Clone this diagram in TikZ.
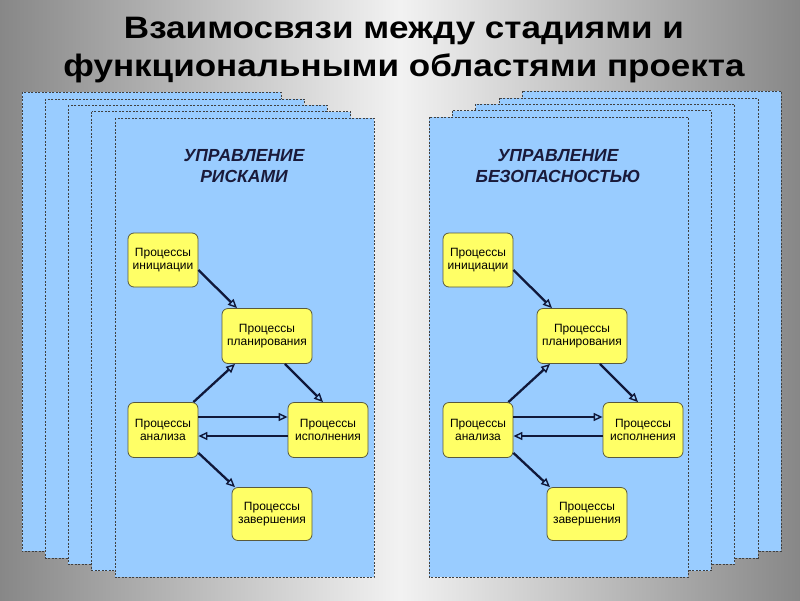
\documentclass[tikz,border=0pt]{standalone}
\usepackage{fontspec}
\setmainfont{Liberation Sans}
\newfontfamily\titlefont[FakeStretch=1.13]{Liberation Sans}
\usetikzlibrary{arrows.meta}

\definecolor{panelblue}{HTML}{99CCFF}
\definecolor{boxyellow}{HTML}{FFFF66}
\definecolor{boxedge}{HTML}{5A5A3C}
\definecolor{headnavy}{HTML}{1A1A3A}
\definecolor{arrownavy}{HTML}{10183A}

\begin{document}
\begin{tikzpicture}[x=1pt, y=-1pt,
    panel/.style={fill=panelblue, draw=black!75, line width=0.6pt, dash pattern=on 2pt off 1.5pt},
    proc/.style={draw=boxedge, fill=boxyellow, rounded corners=6pt, line width=0.8pt,
      align=center, inner sep=0pt, font=\fontsize{12}{13.5}\selectfont},
    flow/.style={draw=arrownavy, line width=2.3pt,
      -{Triangle[open, length=9pt, width=8pt, line width=1.4pt]}},
    head/.style={align=center, text=headnavy, font=\fontsize{17.5}{21}\selectfont\bfseries\itshape}]

  % background and title
  \shade[left color=black!47, right color=black!47, middle color=black!5] (0,0) rectangle (800,600);
  \node[font=\titlefont\fontsize{31}{38}\selectfont\bfseries, align=center] (title) at (404,50)
    {Взаимосвязи между стадиями и\\функциональными областями проекта};

  % stacked sheets
  \foreach \i in {4,3,2,1,0}
    \draw[panel, shift={(-23.3*\i,-6.4*\i)}] (115,118) rectangle (374,577);
  \foreach \i in {4,3,2,1,0}
    \draw[panel, shift={(23.3*\i,-6.4*\i)}] (429,117) rectangle (688,577);

  % left sheet
  \begin{scope}
    \node[head] (riskhead) at (244,166) {УПРАВЛЕНИЕ\\РИСКАМИ};

    \node[proc, minimum width=70pt, minimum height=54pt] (rinit) at (163,260) {Процессы\\инициации};
    \node[proc, minimum width=90pt, minimum height=55pt] (rplan) at (267,336) {Процессы\\планирования};
    \node[proc, minimum width=70pt, minimum height=55pt] (ranal) at (163,430) {Процессы\\анализа};
    \node[proc, minimum width=80pt, minimum height=55pt] (rexec) at (328,430) {Процессы\\исполнения};
    \node[proc, minimum width=80pt, minimum height=53pt] (rclose) at (272,514) {Процессы\\завершения};

    \draw[flow] ([yshift=-10pt]rinit.east) -- ([xshift=-30pt]rplan.north);
    \draw[flow] ([xshift=-5pt]ranal.north east) -- ([xshift=-32pt]rplan.south);
    \draw[flow] ([xshift=18pt]rplan.south) -- ([xshift=-5pt]rexec.north);
    \draw[flow] ([yshift=13pt]ranal.east) -- ([yshift=13pt]rexec.west);
    \draw[flow] ([yshift=-6pt]rexec.west) -- ([yshift=-6pt]ranal.east);
    \draw[flow] ([yshift=5pt]ranal.south east) -- ([xshift=-37pt]rclose.north);
  \end{scope}

  % right sheet
  \begin{scope}[xshift=315pt]
    \node[head] (safehead) at (243,166) {УПРАВЛЕНИЕ\\БЕЗОПАСНОСТЬЮ};

    \node[proc, minimum width=70pt, minimum height=54pt] (sinit) at (163,260) {Процессы\\инициации};
    \node[proc, minimum width=90pt, minimum height=55pt] (splan) at (267,336) {Процессы\\планирования};
    \node[proc, minimum width=70pt, minimum height=55pt] (sanal) at (163,430) {Процессы\\анализа};
    \node[proc, minimum width=80pt, minimum height=55pt] (sexec) at (328,430) {Процессы\\исполнения};
    \node[proc, minimum width=80pt, minimum height=53pt] (sclose) at (272,514) {Процессы\\завершения};

    \draw[flow] ([yshift=-10pt]sinit.east) -- ([xshift=-30pt]splan.north);
    \draw[flow] ([xshift=-5pt]sanal.north east) -- ([xshift=-32pt]splan.south);
    \draw[flow] ([xshift=18pt]splan.south) -- ([xshift=-5pt]sexec.north);
    \draw[flow] ([yshift=13pt]sanal.east) -- ([yshift=13pt]sexec.west);
    \draw[flow] ([yshift=-6pt]sexec.west) -- ([yshift=-6pt]sanal.east);
    \draw[flow] ([yshift=5pt]sanal.south east) -- ([xshift=-37pt]sclose.north);
  \end{scope}
\end{tikzpicture}
\end{document}
